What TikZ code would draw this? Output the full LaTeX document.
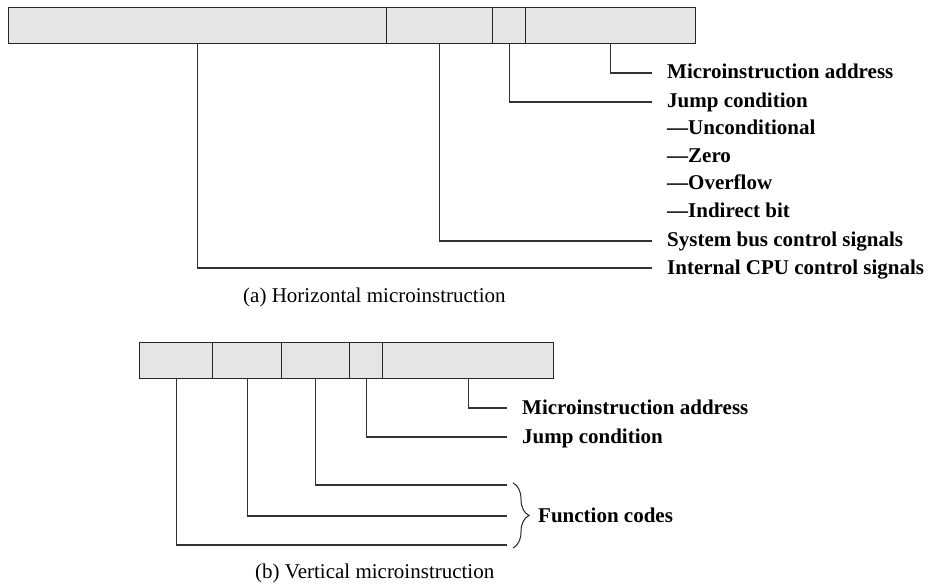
\documentclass[tikz,border=0pt]{standalone}
\usepackage{fontspec}
\setmainfont{Liberation Serif}
\usetikzlibrary{decorations.pathreplacing}
\begin{document}
\begin{tikzpicture}[x=1pt,y=-1pt,
  field/.style={draw=black!85, line width=1.4pt, fill=black!10, anchor=north west, inner sep=0pt, minimum height=36pt},
  conn/.style={draw=black!80, line width=1.3pt},
  lab/.style={anchor=base west, inner sep=0pt, font=\fontsize{21}{25}\selectfont\bfseries},
  captext/.style={anchor=base west, inner sep=0pt, font=\fontsize{21}{25}\selectfont}]
\useasboundingbox (0,0) rectangle (933,585);
% (a) horizontal
\node[field, minimum width=378pt] (h1) at (8,7) {};
\node[field, minimum width=106pt] (h2) at (386,7) {};
\node[field, minimum width=33pt] (h3) at (492,7) {};
\node[field, minimum width=170pt] (h4) at (525,7) {};
\coordinate (he1) at (652,73);
\coordinate (he2) at (652,102);
\coordinate (he3) at (652,241);
\coordinate (he4) at (652,268);
\draw[conn] (h4.south) |- (he1);
\draw[conn] (h3.south) |- (he2);
\draw[conn] (h2.south) |- (he3);
\draw[conn] (h1.south) |- (he4);
\node[lab] (hl1) at (667,79) {Microinstruction address};
\node[lab] (hl2) at (667,108) {Jump condition};
\node[lab] (hl3) at (667,135) {—Unconditional};
\node[lab] (hl4) at (667,163) {—Zero};
\node[lab] (hl5) at (667,190) {—Overflow};
\node[lab] (hl6) at (667,218) {—Indirect bit};
\node[lab] (hl7) at (667,247) {System bus control signals};
\node[lab] (hl8) at (667,274) {Internal CPU control signals};
\node[captext] (capa) at (243,302) {(a) Horizontal microinstruction};
% (b) vertical
\node[field, minimum width=73pt] (v1) at (139,342) {};
\node[field, minimum width=69pt] (v2) at (212,342) {};
\node[field, minimum width=68pt] (v3) at (281,342) {};
\node[field, minimum width=33pt] (v4) at (349,342) {};
\node[field, minimum width=171pt] (v5) at (382,342) {};
\coordinate (ve5) at (507,408);
\coordinate (ve4) at (507,437);
\coordinate (ve3) at (507,485);
\coordinate (ve2) at (507,516);
\coordinate (ve1) at (507,545);
\draw[conn] (v5.south) |- (ve5);
\draw[conn] (v4.south) |- (ve4);
\draw[conn] (v3.south) |- (ve3);
\draw[conn] (v2.south) |- (ve2);
\draw[conn] (v1.south) |- (ve1);
\coordinate (bt) at (513,483);
\coordinate (bb) at (513,548);
\draw[black!85, line width=1pt, decorate, decoration={brace, amplitude=16pt}] (bt) -- (bb);
\node[lab] (vl1) at (522,414) {Microinstruction address};
\node[lab] (vl2) at (522,443) {Jump condition};
\node[lab] (vl3) at (538,522) {Function codes};
\node[captext] (capb) at (255,578) {(b) Vertical microinstruction};
\end{tikzpicture}
\end{document}
